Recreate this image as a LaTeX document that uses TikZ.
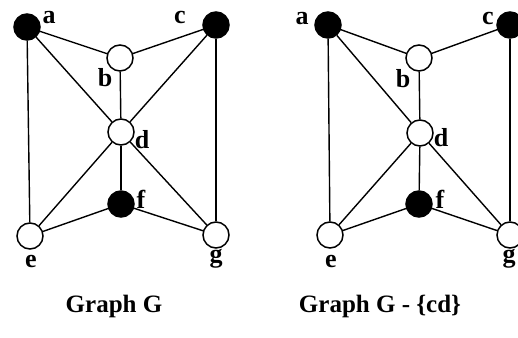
\documentclass[tikz,border=0pt]{standalone}
\usepackage{fontspec}
\setmainfont{Liberation Serif}
\begin{document}
\begin{tikzpicture}[x=1pt,y=-1pt,
  vtx/.style={circle,draw=black,line width=1.5pt,minimum size=26pt,inner sep=0pt},
  wv/.style={vtx,fill=white},
  bv/.style={vtx,fill=black},
  edge/.style={line width=1.4pt,black},
  lbl/.style={anchor=base,inner sep=0pt,font=\fontsize{26}{26}\selectfont\bfseries},
  captxt/.style={anchor=base,inner sep=0pt,font=\fontsize{25}{25}\selectfont\bfseries}]
\useasboundingbox (0,0) rectangle (518,337);
% left graph
\node[bv] (la) at (27,27) {};
\node[wv] (lb) at (120,58) {};
\node[bv] (lc) at (216,25) {};
\node[wv] (ld) at (121,132) {};
\node[bv] (lf) at (121,204) {};
\node[wv] (le) at (30,236) {};
\node[wv] (lg) at (216,235) {};
\draw[edge] (la) -- (lb);
\draw[edge] (la) -- (ld);
\draw[edge] (la) -- (le);
\draw[edge] (lc) -- (lb);
\draw[edge] (lc) -- (ld);
\draw[edge] (lc) -- (lg);
\draw[edge] (lb) -- (ld);
\draw[edge] (ld) -- (le);
\draw[edge] (ld) -- (lf);
\draw[edge] (ld) -- (lg);
\draw[edge] (le) -- (lf);
\draw[edge] (lf) -- (lg);
\node[lbl] (tla) at (49,24) {a};
\node[lbl] (tlc) at (180,24) {c};
\node[lbl] (tlb) at (105,86) {b};
\node[lbl] (tld) at (142,148) {d};
\node[lbl] (tlf) at (141,208) {f};
\node[lbl] (tle) at (31,267) {e};
\node[lbl] (tlg) at (216,262) {g};
% right graph
\node[bv] (ra) at (328,25) {};
\node[wv] (rb) at (419,58) {};
\node[bv] (rc) at (510,25) {};
\node[wv] (rd) at (420,133) {};
\node[bv] (rf) at (419,204) {};
\node[wv] (re) at (330,235) {};
\node[wv] (rg) at (510,235) {};
\draw[edge] (ra) -- (rb);
\draw[edge] (ra) -- (rd);
\draw[edge] (ra) -- (re);
\draw[edge] (rc) -- (rb);
\draw[edge] (rc) -- (rg);
\draw[edge] (rb) -- (rd);
\draw[edge] (rd) -- (re);
\draw[edge] (rd) -- (rf);
\draw[edge] (rd) -- (rg);
\draw[edge] (re) -- (rf);
\draw[edge] (rf) -- (rg);
\node[lbl] (tra) at (302,25) {a};
\node[lbl] (trc) at (488,25) {c};
\node[lbl] (trb) at (403,87) {b};
\node[lbl] (trd) at (441,146) {d};
\node[lbl] (trf) at (440,208) {f};
\node[lbl] (tre) at (331,267) {e};
\node[lbl] (trg) at (509,262) {g};
% captions
\node[captxt] (capl) at (114,312) {Graph G};
\node[captxt] (capr) at (380,312) {Graph G - \{cd\}};
\end{tikzpicture}
\end{document}
